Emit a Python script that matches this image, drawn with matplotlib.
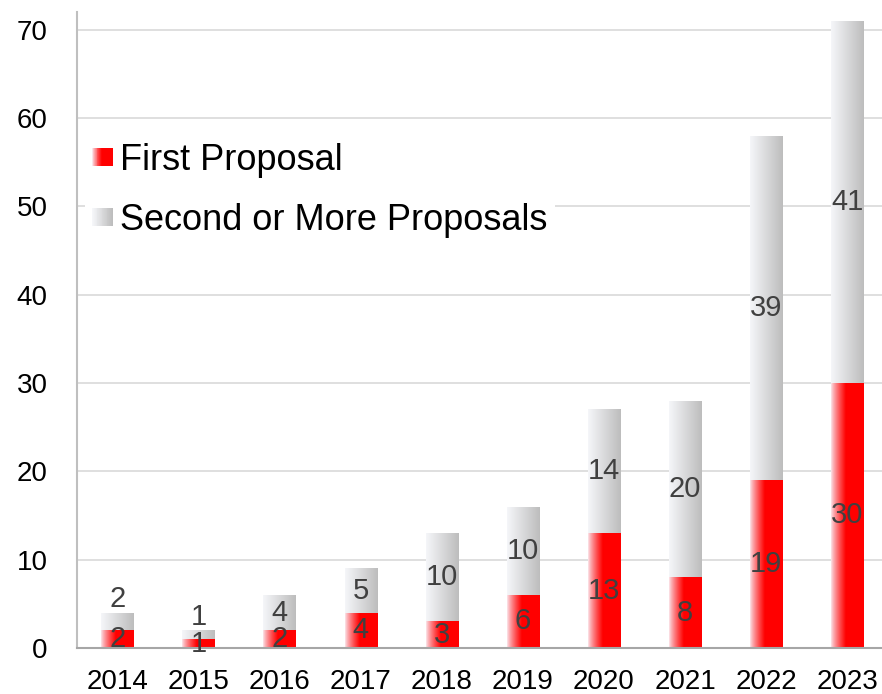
import numpy as np
import matplotlib
matplotlib.use("Agg")
import matplotlib.pyplot as plt
from matplotlib.legend_handler import HandlerBase
from matplotlib.patches import Rectangle
from matplotlib.colors import to_rgb

plt.rcParams['font.family'] = ['Liberation Sans', 'DejaVu Sans']

# data
years = ['2014', '2015', '2016', '2017', '2018', '2019', '2020', '2021', '2022', '2023']
first = [2, 1, 2, 4, 3, 6, 13, 8, 19, 30]
second = [2, 1, 4, 5, 10, 10, 14, 20, 39, 41]
labels = ['First Proposal', 'Second or More Proposals']


def red_grad(n=64):
    # white-ish on the left, solid red from ~40% of the width
    t = np.linspace(0, 1, n)
    k = np.clip(t / 0.45, 0, 1) ** 0.8
    c0 = np.array(to_rgb('#fbe4ea'))
    c1 = np.array(to_rgb('#ff0000'))
    return c0[None, :] * (1 - k[:, None]) + c1[None, :] * k[:, None]


def gray_grad(n=64):
    t = np.linspace(0, 1, n)
    c0 = np.array(to_rgb('#f5f6f9'))
    c1 = np.array(to_rgb('#bdbdbd'))
    return c0[None, :] * (1 - t[:, None]) + c1[None, :] * t[:, None]


class GradHandler(HandlerBase):
    def __init__(self, cols):
        super().__init__()
        self.cols = cols

    def create_artists(self, legend, orig_handle, xdescent, ydescent, width, height, fontsize, trans):
        sw, sh = 14.4, 13
        x0 = width - sw
        y0 = (height - sh) / 2 - ydescent
        n = len(self.cols)
        arts = []
        for i, c in enumerate(self.cols):
            arts.append(Rectangle((x0 + sw * i / n, y0), sw / n * 1.05, sh,
                                  facecolor=c, edgecolor='none', transform=trans))
        return arts


fig = plt.figure(figsize=(8.82, 6.94), dpi=100)
ax = fig.add_axes([0.0873, 0.0663, 0.9127, 0.9164])

x = np.arange(len(years))
w = 0.4
b1 = ax.bar(x, first, w, color='red', zorder=2)
b2 = ax.bar(x, second, w, bottom=first, color='#d0d0d0', zorder=2)

# gradient fill, clipped to each bar
for bars, g in [(b1, red_grad()), (b2, gray_grad())]:
    for p in bars:
        bx, by = p.get_x(), p.get_y()
        im = ax.imshow(g[None, :, :], extent=[bx, bx + p.get_width(), by, by + p.get_height()],
                       aspect='auto', zorder=2.5, interpolation='bilinear')
        im.set_clip_path(p)
        p.set_facecolor('none')

for i in range(len(years)):
    total = first[i] + second[i]
    ax.text(x[i], first[i] / 2, str(first[i]), ha='center', va='center',
            fontsize=21, color='#404040', zorder=4)
    # tiny top segments: put the label just above the bar
    ys = first[i] + second[i] / 2 if second[i] >= 3 else total + 1.5
    ax.text(x[i], ys, str(second[i]), ha='center', va='center',
            fontsize=21, color='#404040', zorder=4)

ax.set_xlim(-0.5, 9.43)
ax.set_ylim(0, 72)
ax.set_yticks(range(0, 71, 10))
ax.set_xticks(x)
ax.set_xticklabels(years)
ax.tick_params(axis='both', length=0, labelsize=20, colors='black')
ax.tick_params(axis='y', pad=21)
ax.tick_params(axis='x', pad=15)

ax.grid(axis='y', color='#d9d9d9', linewidth=1.2, zorder=0)
ax.set_axisbelow(True)
for s in ['top', 'right']:
    ax.spines[s].set_visible(False)
ax.spines['left'].set_color('#bfbfbf')
ax.spines['left'].set_linewidth(1.5)
ax.spines['bottom'].set_color('#a6a6a6')
ax.spines['bottom'].set_linewidth(1.5)

h1 = Rectangle((0, 0), 1, 1)
h2 = Rectangle((0, 0), 1, 1)
leg = ax.legend([h1, h2], labels, loc='center left', bbox_to_anchor=(0.01, 0.72),
                fontsize=26, frameon=True, framealpha=1, edgecolor='none', fancybox=False,
                handler_map={h1: GradHandler(red_grad(24)), h2: GradHandler(gray_grad(24))},
                handlelength=0.56, handletextpad=0.22, labelspacing=0.69, borderpad=0.2,
                borderaxespad=0)
for t in leg.get_texts():
    t.set_color('black')
leg.set_zorder(5)

fig.savefig('out.png', dpi=100)
